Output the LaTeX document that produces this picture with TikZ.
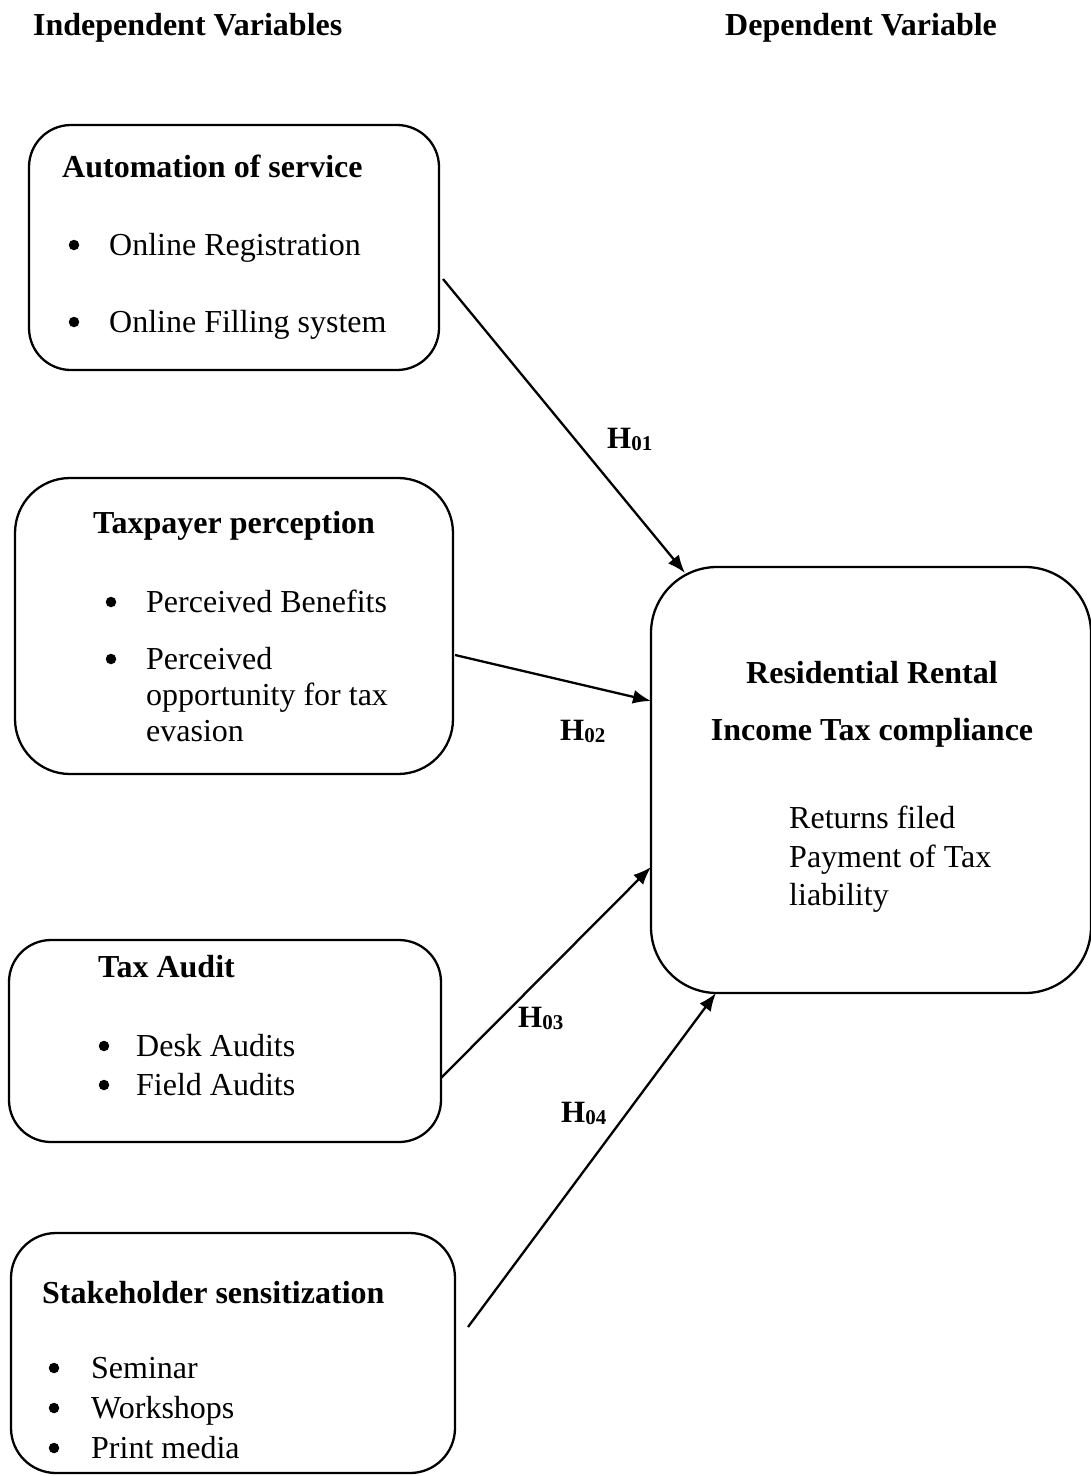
\documentclass[tikz,border=0pt]{standalone}
\usepackage{fontspec}
\setmainfont{Liberation Serif}
\usetikzlibrary{arrows.meta}
\begin{document}
\begin{tikzpicture}[x=1pt,y=-1pt,
  box/.style={draw=black,line width=2.3pt,inner sep=0pt},
  txt/.style={anchor=base west,inner sep=0pt,font=\fontsize{32}{38}\selectfont},
  btxt/.style={txt,font=\fontsize{32}{38}\selectfont\bfseries},
  ctxt/.style={btxt,anchor=base},
  bul/.style={circle,fill=black,inner sep=0pt,minimum size=10.5pt},
  hlab/.style={anchor=base west,inner sep=0pt,font=\fontsize{31}{31}\selectfont\bfseries},
  arr/.style={line width=2.3pt,-{Latex[length=18pt,width=14pt]}}]
\useasboundingbox (0,0) rectangle (1091,1476);
\newcommand{\hsub}[1]{H{\fontsize{21}{21}\selectfont\raisebox{-2pt}{#1}}}
% headers
\node[btxt] (hi) at (33,35) {Independent Variables};
\node[btxt] (hd) at (725,35) {Dependent Variable};
% box 1
\node[box,rounded corners=42pt,minimum width=410pt,minimum height=245pt] (b1) at (234,247.5) {};
\node[btxt] (t1) at (62,177) {Automation of service};
\node[bul] (u11) at (74,245) {};
\node[txt] (t11) at (109,255) {Online Registration};
\node[bul] (u12) at (74,322) {};
\node[txt] (t12) at (109,332) {Online Filling system};
% box 2
\node[box,rounded corners=55pt,minimum width=438pt,minimum height=296pt] (b2) at (234,626) {};
\node[btxt] (t2) at (93,533) {Taxpayer perception};
\node[bul] (u21) at (111,602) {};
\node[txt] (t21) at (146,612) {Perceived Benefits};
\node[bul] (u22) at (111,659) {};
\node[txt] (t22a) at (146,669) {Perceived};
\node[txt] (t22b) at (146,705) {opportunity for tax};
\node[txt] (t22c) at (146,741) {evasion};
% box 3
\node[box,rounded corners=42pt,minimum width=432pt,minimum height=202pt] (b3) at (225,1041) {};
\node[btxt] (t3) at (98,977) {Tax Audit};
\node[bul] (u31) at (104,1046) {};
\node[txt] (t31) at (136,1056) {Desk Audits};
\node[bul] (u32) at (104,1085) {};
\node[txt] (t32) at (136,1095) {Field Audits};
% box 4
\node[box,rounded corners=45pt,minimum width=444pt,minimum height=240pt] (b4) at (233,1353) {};
\node[btxt] (t4) at (42,1303) {Stakeholder sensitization};
\node[bul] (u41) at (54,1368) {};
\node[txt] (t41) at (91,1378) {Seminar};
\node[bul] (u42) at (54,1408) {};
\node[txt] (t42) at (91,1418) {Workshops};
\node[bul] (u43) at (54,1448) {};
\node[txt] (t43) at (91,1458) {Print media};
% dependent box
\node[box,rounded corners=66pt,minimum width=440pt,minimum height=426pt] (dv) at (871,780) {};
\node[ctxt] (d1) at (872,683) {Residential Rental};
\node[ctxt] (d2) at (872,740) {Income Tax compliance};
\node[txt] (d3) at (789,828) {Returns filed};
\node[txt] (d4) at (789,867) {Payment of Tax};
\node[txt] (d5) at (789,905) {liability};
% arrows
\coordinate (s1) at (443,279); \coordinate (e1) at (685,573);
\coordinate (s2) at (455,655); \coordinate (e2) at (651,701);
\coordinate (s3) at (441,1078); \coordinate (e3) at (651,867);
\coordinate (s4) at (468,1327); \coordinate (e4) at (716,993);
\draw[arr] (s1) -- (e1);
\draw[arr] (s2) -- (e2);
\draw[arr] (s3) -- (e3);
\draw[arr] (s4) -- (e4);
% labels
\node[hlab] (h1) at (607,448) {\hsub{01}};
\node[hlab] (h2) at (560,740) {\hsub{02}};
\node[hlab] (h3) at (518,1027) {\hsub{03}};
\node[hlab] (h4) at (561,1122) {\hsub{04}};
\end{tikzpicture}
\end{document}
